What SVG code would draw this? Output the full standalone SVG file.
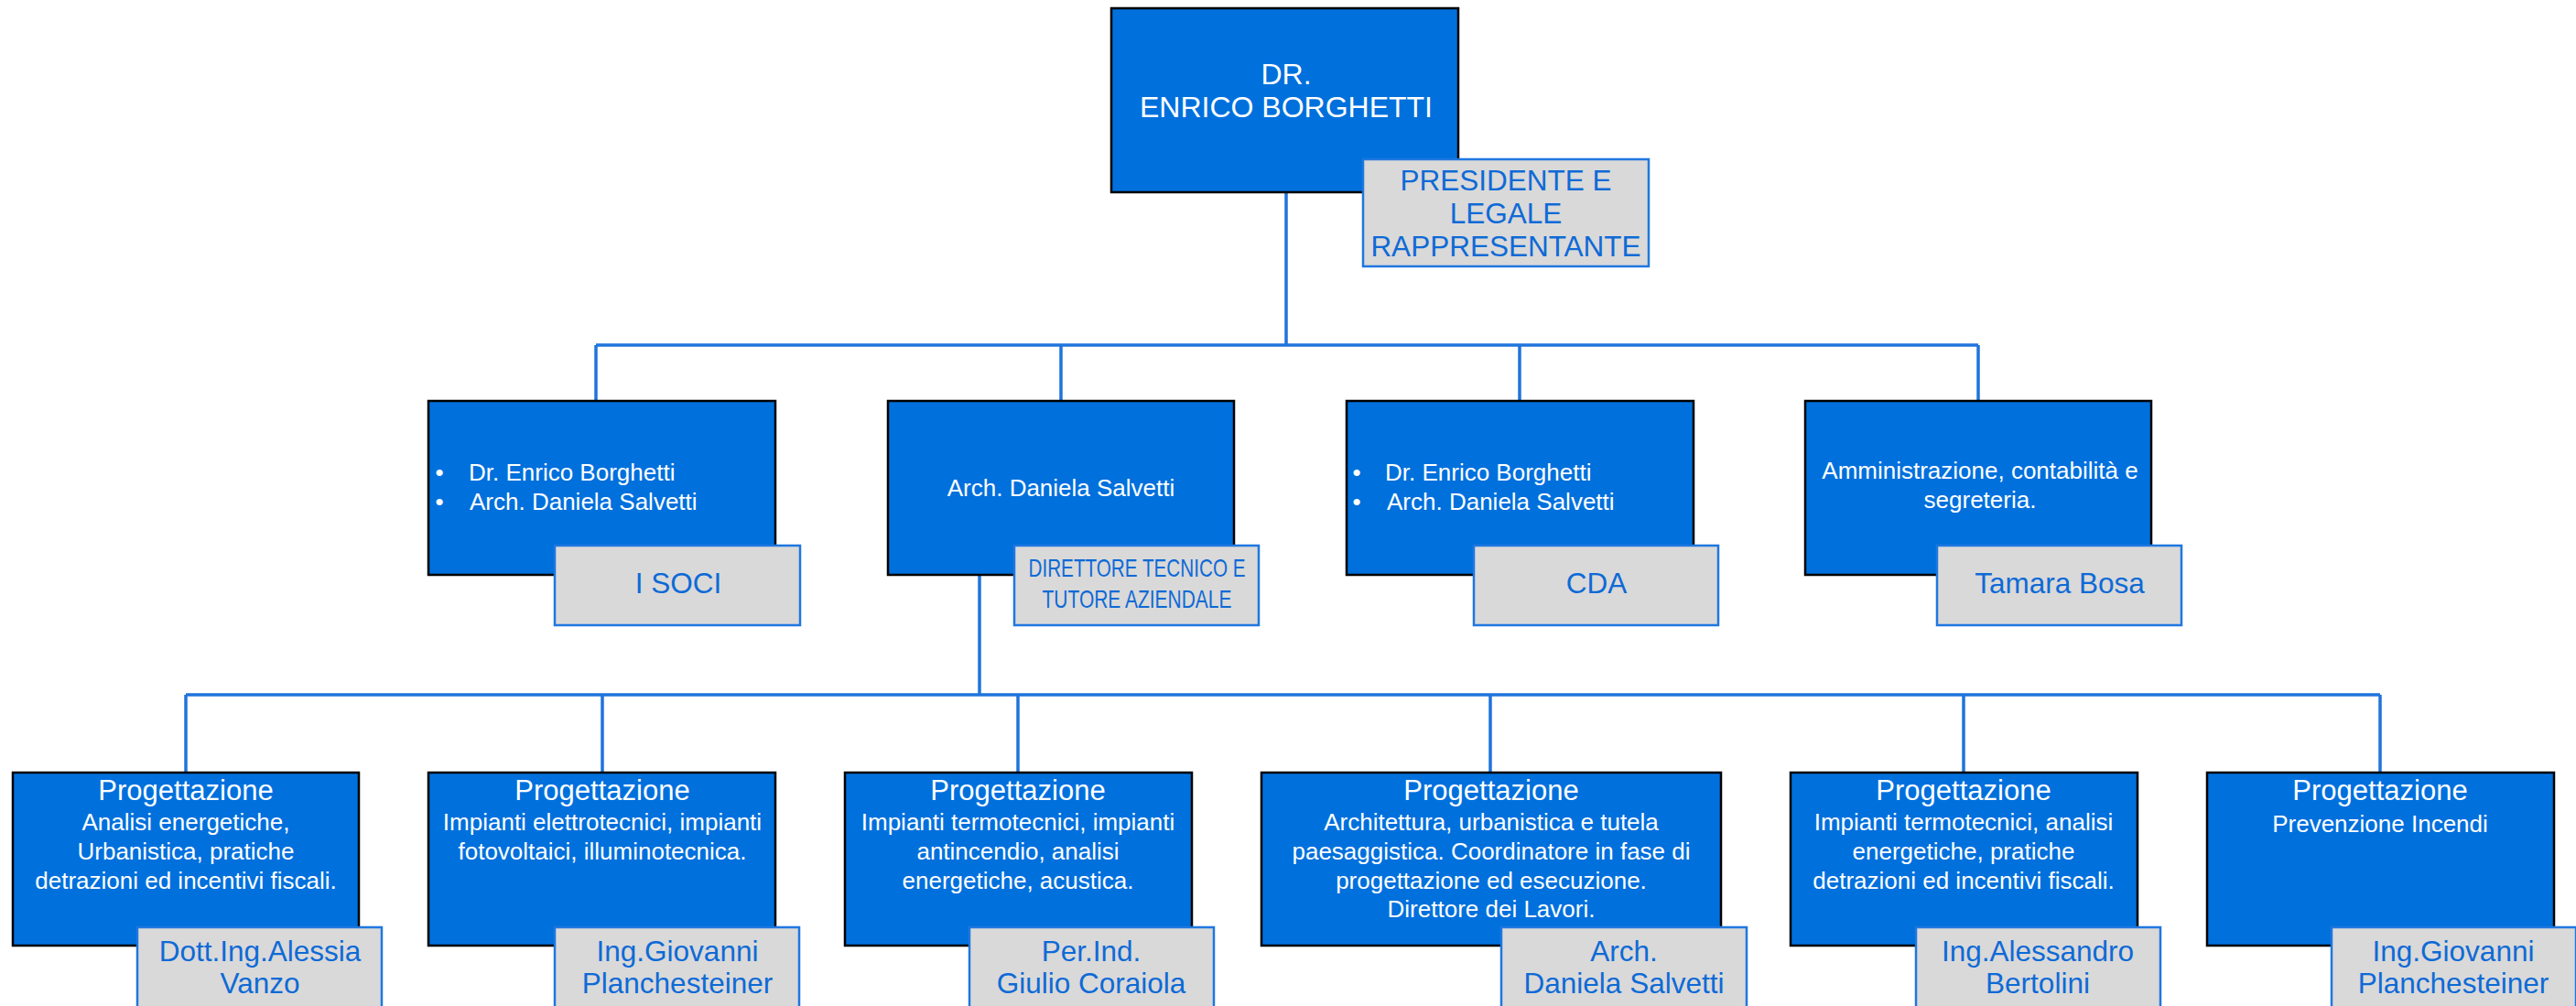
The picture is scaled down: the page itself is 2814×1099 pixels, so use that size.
<svg xmlns="http://www.w3.org/2000/svg" width="2814" height="1099" viewBox="0 0 2814 1099">
<style>
.box{fill:#0070DD;stroke:#000;stroke-width:2.5}
.lbl{fill:#D9D9D9;stroke:#1F77E0;stroke-width:2.5}
.conn{fill:none;stroke:#1F74DC;stroke-width:3.5}
text{font-family:"Liberation Sans",Arial,sans-serif}
.wt{fill:#fff;font-size:26px}
.wc{fill:#fff;font-size:26px;text-anchor:middle}
.hd{fill:#fff;font-size:31px;text-anchor:middle}
.top{fill:#fff;font-size:32px;text-anchor:middle}
.lt{fill:#0E6AD6;font-size:31.5px;text-anchor:middle}
.nt{fill:#0E6AD6;font-size:28px;text-anchor:middle}
</style>
<rect width="2814" height="1099" fill="#fff"/>
<g id="connectors">
<path class="conn" d="M1405 210V377M651 377H2161M651 377V438M1159 377V438M1660 377V438M2161 377V438"/>
<path class="conn" d="M1070 628V759M203 759H2600M203 759V844M658 759V844M1112 759V844M1628 759V844M2145 759V844M2600 759V844"/>
</g>
<g id="n-president">
<rect class="box" x="1214" y="9" width="379" height="201"/>
<text class="top" x="1405" y="92">DR.</text>
<text class="top" x="1405" y="128">ENRICO BORGHETTI</text>
<rect class="lbl" x="1489" y="174" width="312" height="117"/>
<text class="lt" x="1645" y="208">PRESIDENTE E</text>
<text class="lt" x="1645" y="244">LEGALE</text>
<text class="lt" x="1645" y="280">RAPPRESENTANTE</text>
</g>
<g id="n-soci">
<rect class="box" x="468" y="438" width="379" height="190"/>
<text class="wc" x="480" y="525">•</text>
<text class="wt" x="512" y="525">Dr. Enrico Borghetti</text>
<text class="wc" x="480" y="557">•</text>
<text class="wt" x="513" y="557">Arch. Daniela Salvetti</text>
<rect class="lbl" x="606" y="596" width="268" height="87"/>
<text class="lt" x="741" y="648">I SOCI</text>
</g>
<g id="n-direttore">
<rect class="box" x="970" y="438" width="378" height="190"/>
<text class="wc" x="1159" y="542">Arch. Daniela Salvetti</text>
<rect class="lbl" x="1108" y="596" width="267" height="87"/>
<text class="nt" x="1242" y="630" textLength="237" lengthAdjust="spacingAndGlyphs">DIRETTORE TECNICO E</text>
<text class="nt" x="1242" y="664" textLength="207" lengthAdjust="spacingAndGlyphs">TUTORE AZIENDALE</text>
</g>
<g id="n-cda">
<rect class="box" x="1471" y="438" width="379" height="190"/>
<text class="wc" x="1482" y="525">•</text>
<text class="wt" x="1513" y="525">Dr. Enrico Borghetti</text>
<text class="wc" x="1482" y="557">•</text>
<text class="wt" x="1515" y="557">Arch. Daniela Salvetti</text>
<rect class="lbl" x="1610" y="596" width="267" height="87"/>
<text class="lt" x="1744" y="648">CDA</text>
</g>
<g id="n-amministrazione">
<rect class="box" x="1972" y="438" width="378" height="190"/>
<text class="wc" x="2163" y="523">Amministrazione, contabilità e</text>
<text class="wc" x="2163" y="555">segreteria.</text>
<rect class="lbl" x="2116" y="596" width="267" height="87"/>
<text class="lt" x="2250" y="648">Tamara Bosa</text>
</g>
<g id="n-p1">
<rect class="box" x="14" y="844" width="378" height="189"/>
<text class="hd" x="203" y="874">Progettazione</text>
<text class="wc" x="203" y="907">Analisi energetiche,</text>
<text class="wc" x="203" y="939">Urbanistica, pratiche</text>
<text class="wc" x="203" y="971">detrazioni ed incentivi fiscali.</text>
<rect class="lbl" x="150" y="1013" width="267" height="90"/>
<text class="lt" x="284" y="1050">Dott.Ing.Alessia</text>
<text class="lt" x="284" y="1085">Vanzo</text>
</g>
<g id="n-p2">
<rect class="box" x="468" y="844" width="379" height="189"/>
<text class="hd" x="658" y="874">Progettazione</text>
<text class="wc" x="658" y="907">Impianti elettrotecnici, impianti</text>
<text class="wc" x="658" y="939">fotovoltaici, illuminotecnica.</text>
<rect class="lbl" x="606" y="1013" width="267" height="90"/>
<text class="lt" x="740" y="1050">Ing.Giovanni</text>
<text class="lt" x="740" y="1085">Planchesteiner</text>
</g>
<g id="n-p3">
<rect class="box" x="923" y="844" width="379" height="189"/>
<text class="hd" x="1112" y="874">Progettazione</text>
<text class="wc" x="1112" y="907">Impianti termotecnici, impianti</text>
<text class="wc" x="1112" y="939">antincendio, analisi</text>
<text class="wc" x="1112" y="971">energetiche, acustica.</text>
<rect class="lbl" x="1059" y="1013" width="267" height="90"/>
<text class="lt" x="1192" y="1050">Per.Ind.</text>
<text class="lt" x="1192" y="1085">Giulio Coraiola</text>
</g>
<g id="n-p4">
<rect class="box" x="1378" y="844" width="502" height="189"/>
<text class="hd" x="1629" y="874">Progettazione</text>
<text class="wc" x="1629" y="907">Architettura, urbanistica e tutela</text>
<text class="wc" x="1629" y="939">paesaggistica. Coordinatore in fase di</text>
<text class="wc" x="1629" y="971">progettazione ed esecuzione.</text>
<text class="wc" x="1629" y="1002">Direttore dei Lavori.</text>
<rect class="lbl" x="1640" y="1013" width="268" height="90"/>
<text class="lt" x="1774" y="1050">Arch.</text>
<text class="lt" x="1774" y="1085">Daniela Salvetti</text>
</g>
<g id="n-p5">
<rect class="box" x="1956" y="844" width="379" height="189"/>
<text class="hd" x="2145" y="874">Progettazione</text>
<text class="wc" x="2145" y="907">Impianti termotecnici, analisi</text>
<text class="wc" x="2145" y="939">energetiche, pratiche</text>
<text class="wc" x="2145" y="971">detrazioni ed incentivi fiscali.</text>
<rect class="lbl" x="2093" y="1013" width="267" height="90"/>
<text class="lt" x="2226" y="1050">Ing.Alessandro</text>
<text class="lt" x="2226" y="1085">Bertolini</text>
</g>
<g id="n-p6">
<rect class="box" x="2411" y="844" width="379" height="189"/>
<text class="hd" x="2600" y="874">Progettazione</text>
<text class="wc" x="2600" y="909">Prevenzione Incendi</text>
<rect class="lbl" x="2547" y="1013" width="267" height="90"/>
<text class="lt" x="2680" y="1050">Ing.Giovanni</text>
<text class="lt" x="2680" y="1085">Planchesteiner</text>
</g>
</svg>
